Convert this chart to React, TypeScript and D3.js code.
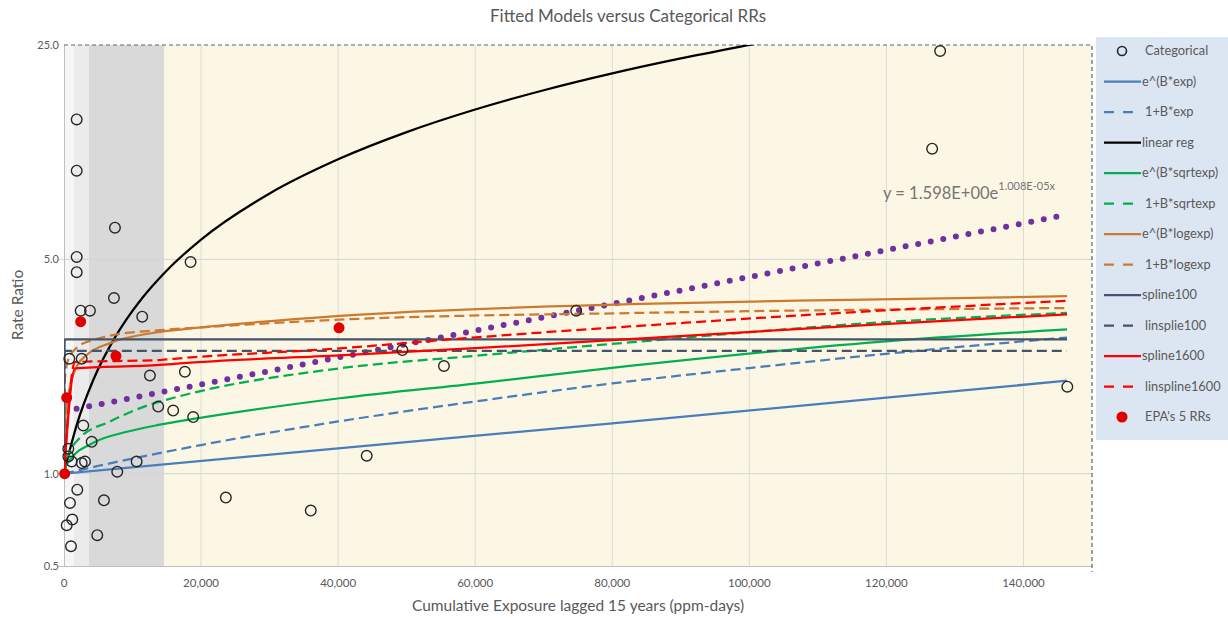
import React, { useEffect, useRef } from "react";
import * as d3 from "d3";

const WIDTH = 1228;
const HEIGHT = 618;

const xTicks = [0, 20000, 40000, 60000, 80000, 100000, 120000, 140000];
const yTicks = [0.5, 1.0, 5.0, 25.0];

// shaded exposure bands behind the plot (ppm-days)
const bands: [number, number, string][] = [
  [0, 1460, "#f6f6f6"],
  [1460, 3650, "#ebebeb"],
  [3650, 14600, "#d9d9d9"],
];

const categorical: [number, number][] = [
  [1851, 14.3], [1851, 9.73], [7434, 6.34], [1851, 5.09], [1851, 4.54],
  [18469, 4.9], [2434, 3.4], [3790, 3.4], [7289, 3.74], [11414, 3.25],
  [773, 2.37], [2580, 2.37], [12536, 2.09], [17638, 2.15], [13746, 1.655],
  [15933, 1.606], [18848, 1.53], [2813, 1.436], [4038, 1.27], [627, 1.206],
  [627, 1.138], [1122, 1.096], [2580, 1.083], [3061, 1.096], [10598, 1.096],
  [7770, 1.015], [1939, 0.887], [875, 0.803], [5831, 0.819], [1210, 0.709],
  [394, 0.679], [4854, 0.63], [1020, 0.58], [49373, 2.53], [55437, 2.245],
  [74738, 3.4], [23615, 0.836], [36006, 0.758], [44169, 1.144],
  [126676, 11.48], [127843, 23.9], [146400, 1.922],
];

const epaRRs: [number, number][] = [
  [100, 1.0], [394, 1.77], [2434, 3.13], [7580, 2.42], [40131, 2.99],
];

const expModel: [number, number][] = [
  [0, 1.0], [40000, 1.21], [80000, 1.46], [120000, 1.77], [146356, 2.01],
];
const linExpModel: [number, number][] = [
  [0, 1.0], [5000, 1.06], [10000, 1.12], [20000, 1.24], [40000, 1.48],
  [60000, 1.72], [80000, 1.97], [100000, 2.21], [120000, 2.46], [146356, 2.78],
];
const linearReg: [number, number][] = [
  [0, 1.0], [400, 1.09], [1850, 1.44], [4270, 2.02], [7190, 2.72], [9140, 3.19],
  [11330, 3.72], [15000, 4.6], [20000, 5.8], [30000, 8.2], [40000, 10.6],
  [50000, 13.0], [60000, 15.4], [70000, 17.8], [80000, 20.2], [90000, 22.6],
  [100000, 25.0], [104000, 26.0],
];
const sqrtExpModel: [number, number][] = [
  [0, 1.0], [300, 1.06], [875, 1.11], [4227, 1.26], [9184, 1.37], [13994, 1.445],
  [19825, 1.52], [40233, 1.762], [60641, 1.975], [82507, 2.245],
  [118950, 2.692], [146356, 2.954],
];
const linSqrtModel: [number, number][] = [
  [0, 1.0], [300, 1.1], [1000, 1.2], [2332, 1.31], [6706, 1.48], [12536, 1.68],
  [16910, 1.79], [40233, 2.206], [60641, 2.43], [82507, 2.68],
  [118950, 3.112], [146356, 3.345],
];
const logExpModel: [number, number][] = [
  [0, 1.0], [150, 1.45], [627, 1.8], [1851, 2.234], [3309, 2.437], [6706, 2.666],
  [13994, 2.9], [20000, 3.0], [40233, 3.27], [82507, 3.569],
  [114577, 3.69], [146356, 3.79],
];
const linLogModel: [number, number][] = [
  [0, 1.0], [100, 2.0], [600, 2.35], [2041, 2.594], [4227, 2.727], [7143, 2.83],
  [13994, 2.938], [20000, 3.0], [40233, 3.18], [82507, 3.34], [146356, 3.47],
];
const spline100: [number, number][] = [
  [0, 1.0], [100, 2.742], [146356, 2.742],
];
const linSpline100: [number, number][] = [
  [0, 1.0], [100, 2.516], [146356, 2.516],
];
const spline1600: [number, number][] = [
  [0, 1.0], [1600, 2.206], [13994, 2.262], [16910, 2.29], [40233, 2.43],
  [60641, 2.57], [82507, 2.748], [118950, 3.07], [146356, 3.31],
];
const linSpline1600: [number, number][] = [
  [0, 1.0], [1600, 2.312], [13994, 2.348], [16910, 2.378], [40233, 2.563],
  [60641, 2.79], [82507, 3.02], [118950, 3.4], [146356, 3.66],
];
const expTrend: [number, number][] = [
  [0, 1.598], [146356, 6.99],
];

type Series = {
  name: string;
  data: [number, number][];
  color: string;
  dash: boolean;
};

const seriesList: Series[] = [
  { name: "e^(B*exp)", data: expModel, color: "#4a7ebb", dash: false },
  { name: "1+B*exp", data: linExpModel, color: "#4a7ebb", dash: true },
  { name: "linear reg", data: linearReg, color: "#000000", dash: false },
  { name: "e^(B*sqrtexp)", data: sqrtExpModel, color: "#00b050", dash: false },
  { name: "1+B*sqrtexp", data: linSqrtModel, color: "#00b050", dash: true },
  { name: "e^(B*logexp)", data: logExpModel, color: "#cc7a2f", dash: false },
  { name: "1+B*logexp", data: linLogModel, color: "#cc7a2f", dash: true },
  { name: "spline100", data: spline100, color: "#44546a", dash: false },
  { name: "linsplie100", data: linSpline100, color: "#44546a", dash: true },
  { name: "spline1600", data: spline1600, color: "#ff0000", dash: false },
  { name: "linspline1600", data: linSpline1600, color: "#ff0000", dash: true },
];

const FONT = "Lato, 'Open Sans', sans-serif";

const App: React.FC = () => {
  const svgRef = useRef<SVGSVGElement>(null);

  useEffect(() => {
    const svg = d3.select(svgRef.current);
    svg.selectAll("*").remove();

    const left = 64;
    const right = 1092;
    const top = 45;
    const bottom = 566;

    const x = d3.scaleLinear().domain([0, 150000]).range([left, right]);
    const y = d3.scaleLog().domain([0.5, 25]).range([bottom, top]);

    svg.append("rect").attr("width", WIDTH).attr("height", HEIGHT).attr("fill", "#ffffff");

    svg
      .append("defs")
      .append("clipPath")
      .attr("id", "plot-clip")
      .append("rect")
      .attr("x", left)
      .attr("y", top)
      .attr("width", right - left)
      .attr("height", bottom - top);

    // plot background + bands
    svg
      .append("rect")
      .attr("x", left)
      .attr("y", top)
      .attr("width", right - left)
      .attr("height", bottom - top)
      .attr("fill", "#fcf7e4");
    svg
      .selectAll(".band")
      .data(bands)
      .join("rect")
      .attr("x", (d) => x(d[0]))
      .attr("y", top)
      .attr("width", (d) => x(d[1]) - x(d[0]))
      .attr("height", bottom - top)
      .attr("fill", (d) => d[2]);

    // gridlines
    svg
      .selectAll(".vgrid")
      .data(xTicks.slice(1))
      .join("line")
      .attr("x1", (d) => x(d))
      .attr("x2", (d) => x(d))
      .attr("y1", top)
      .attr("y2", bottom)
      .attr("stroke", "#dcdcd4")
      .attr("stroke-width", 1);
    svg
      .selectAll(".hgrid")
      .data([1.0, 5.0])
      .join("line")
      .attr("x1", left - 6)
      .attr("x2", right)
      .attr("y1", (d) => y(d))
      .attr("y2", (d) => y(d))
      .attr("stroke", "#d4d4d4")
      .attr("stroke-width", 1);

    // axes lines
    svg
      .append("line")
      .attr("x1", left + 0.5)
      .attr("x2", left + 0.5)
      .attr("y1", top)
      .attr("y2", bottom)
      .attr("stroke", "#bfbfbf");
    svg
      .append("line")
      .attr("x1", left - 6)
      .attr("x2", right)
      .attr("y1", bottom + 0.5)
      .attr("y2", bottom + 0.5)
      .attr("stroke", "#bfbfbf");

    // dashed border top and right
    svg
      .append("path")
      .attr("d", `M${left},${top}H${right}V${bottom + 6}`)
      .attr("fill", "none")
      .attr("stroke", "#5a6478")
      .attr("stroke-width", 1.2)
      .attr("stroke-dasharray", "4,3");

    // tick labels
    svg
      .selectAll(".ylab")
      .data(yTicks)
      .join("text")
      .attr("x", left - 5)
      .attr("y", (d) => y(d))
      .attr("dy", "0.35em")
      .attr("text-anchor", "end")
      .attr("font-family", FONT)
      .attr("font-size", 11)
      .attr("fill", "#595959")
      .text((d) => d.toFixed(1));
    svg
      .selectAll(".xlab")
      .data(xTicks)
      .join("text")
      .attr("x", (d) => x(d))
      .attr("y", 587)
      .attr("text-anchor", "middle")
      .attr("font-family", FONT)
      .attr("font-size", 11.5)
      .attr("fill", "#595959")
      .text((d) => d3.format(",")(d));

    const plot = svg.append("g").attr("clip-path", "url(#plot-clip)");

    const line = d3
      .line<[number, number]>()
      .x((d) => x(d[0]))
      .y((d) => y(d[1]))
      .curve(d3.curveMonotoneX);

    // trendline (dotted purple)
    plot
      .append("path")
      .datum(expTrend)
      .attr("d", line)
      .attr("fill", "none")
      .attr("stroke", "#7030a0")
      .attr("stroke-width", 6)
      .attr("stroke-linecap", "round")
      .attr("stroke-dasharray", "0,12.8");

    // model lines
    plot
      .selectAll(".model")
      .data(seriesList)
      .join("path")
      .attr("d", (s) => line(s.data))
      .attr("fill", "none")
      .attr("stroke", (s) => s.color)
      .attr("stroke-width", 2.25)
      .attr("stroke-dasharray", (s) => (s.dash ? "10,5" : null));

    // categorical circles
    svg
      .selectAll(".cat")
      .data(categorical)
      .join("circle")
      .attr("cx", (d) => x(d[0]))
      .attr("cy", (d) => y(d[1]))
      .attr("r", 5.3)
      .attr("fill", "none")
      .attr("stroke", "#262626")
      .attr("stroke-width", 1.4);

    // EPA RRs
    svg
      .selectAll(".epa")
      .data(epaRRs)
      .join("circle")
      .attr("cx", (d) => x(d[0]))
      .attr("cy", (d) => y(d[1]))
      .attr("r", 5.5)
      .attr("fill", "#e00000");

    // trendline equation
    const eq = svg
      .append("text")
      .attr("x", 883)
      .attr("y", 199)
      .attr("font-family", FONT)
      .attr("font-size", 16.5)
      .attr("fill", "#757575");
    eq.append("tspan").text("y = 1.598E+00e");
    eq.append("tspan").attr("font-size", 11).attr("dy", -9).text("1.008E-05x");

    // titles
    svg
      .append("text")
      .attr("x", 628)
      .attr("y", 22)
      .attr("text-anchor", "middle")
      .attr("font-family", FONT)
      .attr("font-size", 17)
      .attr("fill", "#595959")
      .text("Fitted Models versus Categorical RRs");
    svg
      .append("text")
      .attr("x", 578)
      .attr("y", 611)
      .attr("text-anchor", "middle")
      .attr("font-family", FONT)
      .attr("font-size", 15.5)
      .attr("fill", "#595959")
      .text("Cumulative Exposure lagged 15 years (ppm-days)");
    svg
      .append("text")
      .attr("transform", "translate(23,305) rotate(-90)")
      .attr("text-anchor", "middle")
      .attr("font-family", FONT)
      .attr("font-size", 15.5)
      .attr("fill", "#595959")
      .text("Rate Ratio");

    // legend
    const lg = svg.append("g");
    lg.append("rect")
      .attr("x", 1096)
      .attr("y", 37)
      .attr("width", WIDTH - 1096)
      .attr("height", 403)
      .attr("fill", "#dce6f2");
    const rowY = (i: number) => 51 + i * 30.5;
    const lx0 = 1104;
    const legendFont = 12.8;

    lg.append("circle")
      .attr("cx", 1122)
      .attr("cy", rowY(0))
      .attr("r", 4.5)
      .attr("fill", "none")
      .attr("stroke", "#262626")
      .attr("stroke-width", 1.6);
    lg.append("text")
      .attr("x", 1145)
      .attr("y", rowY(0))
      .attr("dy", "0.35em")
      .attr("font-family", FONT)
      .attr("font-size", legendFont)
      .attr("fill", "#595959")
      .text("Categorical");

    seriesList.forEach((s, i) => {
      const yy = rowY(i + 1);
      lg.append("line")
        .attr("x1", lx0)
        .attr("x2", s.dash ? 1134 : 1141)
        .attr("y1", yy)
        .attr("y2", yy)
        .attr("stroke", s.color)
        .attr("stroke-width", 2.25)
        .attr("stroke-dasharray", s.dash ? "10,9" : null);
      lg.append("text")
        .attr("x", s.dash ? 1145 : 1142)
        .attr("y", yy)
        .attr("dy", "0.35em")
        .attr("font-family", FONT)
        .attr("font-size", legendFont)
        .attr("fill", "#595959")
        .text(s.name);
    });

    const lastY = rowY(seriesList.length + 1);
    lg.append("circle").attr("cx", 1122).attr("cy", lastY).attr("r", 5.5).attr("fill", "#e00000");
    lg.append("text")
      .attr("x", 1145)
      .attr("y", lastY)
      .attr("dy", "0.35em")
      .attr("font-family", FONT)
      .attr("font-size", legendFont)
      .attr("fill", "#595959")
      .text("EPA's 5 RRs");
  }, []);

  return (
    <svg
      ref={svgRef}
      width={WIDTH}
      height={HEIGHT}
      style={{ position: "absolute", left: 0, top: 0, display: "block" }}
    />
  );
};

export default App;
